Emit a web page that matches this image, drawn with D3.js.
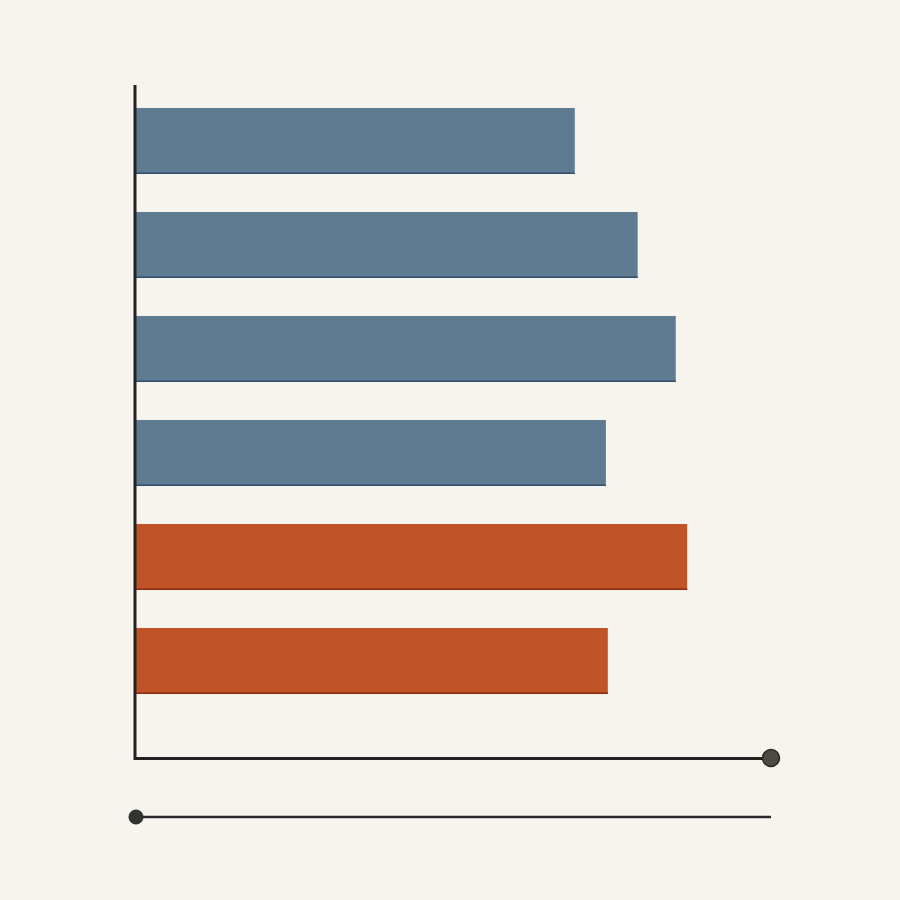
<!DOCTYPE html>
<html>
<head>
<meta charset="utf-8">
<script src="https://cdn.jsdelivr.net/npm/d3@7"></script>
<style>
  html, body { margin: 0; padding: 0; background: #f7f4ee; }
  svg { display: block; }
</style>
</head>
<body>
<svg width="900" height="900"></svg>
<script>
var categories = ['A', 'B', 'C', 'D', 'E', 'F'];
var values = [69.1, 79.0, 85.0, 74.0, 86.8, 74.3];
var groups = ['blue', 'blue', 'blue', 'blue', 'orange', 'orange'];

function main() {
	var svg = d3.select('svg'),
	width = +svg.attr('width'),
	height = +svg.attr('height');

	svg.append('rect')
		.attr('width', width)
		.attr('height', height)
		.attr('fill', '#f7f4ee');

	var x = d3.scaleLinear().domain([0, 100]).range([136, 771]);
	var y = d3.scaleBand()
		.domain(categories)
		.range([89, 713])
		.paddingInner(0.365)
		.paddingOuter(0.1825);

	var color = d3.scaleOrdinal()
		.domain(['blue', 'orange'])
		.range(['#5f7b91', '#bf5428']);
	var edge = d3.scaleOrdinal()
		.domain(['blue', 'orange'])
		.range(['#34506a', '#8a2e10']);

	var data = categories.map(function(c, i) {
		return { cat: c, value: values[i], group: groups[i] };
	});

	var bar = svg.selectAll('.bar')
		.data(data)
		.enter().append('g')
		.attr('class', 'bar');

	bar.append('rect')
		.attr('x', x(0))
		.attr('y', function(d) { return y(d.cat); })
		.attr('width', function(d) { return x(d.value) - x(0); })
		.attr('height', y.bandwidth())
		.attr('fill', function(d) { return color(d.group); });

	// darker bottom edge on each bar
	bar.append('line')
		.attr('x1', x(0))
		.attr('x2', function(d) { return x(d.value); })
		.attr('y1', function(d) { return y(d.cat) + y.bandwidth() - 0.75; })
		.attr('y2', function(d) { return y(d.cat) + y.bandwidth() - 0.75; })
		.attr('stroke', function(d) { return edge(d.group); })
		.attr('stroke-width', 1.5);

	// axes
	svg.append('line')
		.attr('x1', 135).attr('x2', 135)
		.attr('y1', 85).attr('y2', 760)
		.attr('stroke', '#222')
		.attr('stroke-width', 3);

	svg.append('line')
		.attr('x1', 134).attr('x2', x(100))
		.attr('y1', 758.5).attr('y2', 758.5)
		.attr('stroke', '#222')
		.attr('stroke-width', 3);

	svg.append('circle')
		.attr('cx', x(100)).attr('cy', 758)
		.attr('r', 8.5)
		.attr('fill', '#4d4a42')
		.attr('stroke', '#2a2a26')
		.attr('stroke-width', 1.5);

	// lower slider line
	svg.append('line')
		.attr('x1', x(0)).attr('x2', x(100))
		.attr('y1', 817).attr('y2', 817)
		.attr('stroke', '#2a2a2a')
		.attr('stroke-width', 2.5);

	svg.append('circle')
		.attr('cx', x(0)).attr('cy', 817)
		.attr('r', 7)
		.attr('fill', '#333330')
		.attr('stroke', '#222')
		.attr('stroke-width', 1);
}
main();
</script>
</body>
</html>
